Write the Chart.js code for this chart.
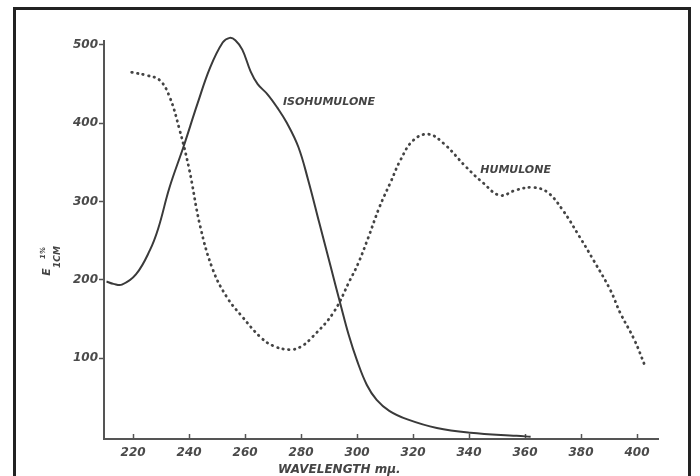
<!DOCTYPE html>
<html>
<head>
<meta charset="utf-8">
<script src="https://cdn.jsdelivr.net/npm/chart.js@4.4.1/dist/chart.umd.min.js"></script>
<style>
  html, body { margin: 0; padding: 0; background: #fff; overflow: hidden; }
  #wrap { position: relative; width: 700px; height: 476px; }
  #frame {
    position: absolute; left: 13px; top: 7px; width: 678px; height: 490px;
    border: 3px solid #222; pointer-events: none; box-sizing: border-box;
  }
</style>
</head>
<body>
<div id="wrap">
  <canvas id="specChart" width="700" height="476"></canvas>
  <div id="frame"></div>
</div>
<script>
// isohumulone, solid curve (wavelength mμ, E 1%/1cm)
const isoWavelength = [210.5, 213, 216, 221, 226, 229, 233, 238, 243, 247.5, 252, 254.5, 256.5, 259, 262, 264.5,
    268, 271.5, 275, 279, 282.5, 286.5, 290.5, 294, 297, 300, 303.5, 307, 311.5, 318, 328.5, 340.5, 357, 362];
const isoE = [198, 195, 194, 207, 238, 266, 318, 370, 425, 471, 503, 509, 506, 494, 466, 450,
    437, 420, 400, 370, 328, 273, 218, 170, 130, 97, 66, 47, 33, 22, 11, 5, 1, 0];

// humulone, dotted curve
const humWavelength = [219.5, 225, 229.5, 233, 236.5, 240, 244, 248.5, 253.5, 259, 265.5, 270, 276, 280, 284,
    291.5, 297.5, 300.5, 304, 308, 312, 315.5, 320, 325.5, 331, 339, 345, 351, 357, 363, 368, 373.5, 379.5,
    384.5, 390.5, 394, 399, 403];
const humE = [465, 461, 455, 434, 393, 342, 268, 213, 178, 153, 127, 116, 111, 115, 127,
    158, 200, 222, 254, 293, 325, 353, 378, 386, 374, 344, 324, 308, 315, 318, 312, 289, 255,
    225, 187, 158, 124, 89];

const xTickValues = [220, 240, 260, 280, 300, 320, 340, 360, 380, 400];
const yTickValues = [100, 200, 300, 400, 500];
const curveNames = ["ISOHUMULONE", "HUMULONE"];

const ink = "#3a3a3a";
const labelFont = { family: "DejaVu Sans", style: "italic", weight: "bold", size: 12 };

function toPoints(xs, ys) {
    return xs.map((x, i) => ({ x: x, y: ys[i] }));
}

// hand-lettered texts of the scan: curve names, axis titles
const scanText = {
    id: "scanText",
    afterDraw(chart) {
        const { ctx, chartArea, scales } = chart;
        const x = scales.x, y = scales.y;
        ctx.save();
        ctx.fillStyle = "#444";
        ctx.textBaseline = "middle";
        ctx.textAlign = "left";
        ctx.font = "italic bold 11px 'DejaVu Sans'";
        ctx.fillText(curveNames[0], x.getPixelForValue(273.5), y.getPixelForValue(427));
        ctx.fillText(curveNames[1], x.getPixelForValue(344), y.getPixelForValue(340));

        // x axis title
        ctx.font = "italic bold 12px 'DejaVu Sans'";
        ctx.fillText("WAVELENGTH mμ.", 278, chartArea.bottom + 31);

        // y axis title, E 1% / 1CM, rotated
        ctx.translate(50, 260);
        ctx.rotate(-Math.PI / 2);
        ctx.textAlign = "center";
        ctx.font = "italic bold 11px 'DejaVu Sans'";
        ctx.fillText("E", -12, -3);
        ctx.font = "italic bold 7px 'DejaVu Sans'";
        ctx.fillText("1%", 7, -7);
        ctx.font = "italic bold 9px 'DejaVu Sans'";
        ctx.fillText("1CM", 3, 8);
        ctx.restore();
    }
};

new Chart(document.getElementById("specChart"), {
    type: "line",
    data: {
        datasets: [
            {
                label: curveNames[0],
                data: toPoints(isoWavelength, isoE),
                borderColor: ink,
                borderWidth: 2,
                pointRadius: 0,
                tension: 0.4,
                clip: false
            },
            {
                label: curveNames[1],
                data: toPoints(humWavelength, humE),
                borderColor: "#444",
                borderWidth: 2.8,
                borderDash: [0.5, 5.2],
                borderCapStyle: "round",
                pointRadius: 0,
                tension: 0.4,
                clip: false
            }
        ]
    },
    options: {
        responsive: false,
        animation: false,
        layout: { padding: { left: 0, top: 41, right: 42, bottom: 0 } },
        scales: {
            x: {
                type: "linear",
                min: 209.6,
                max: 407.5,
                afterBuildTicks: s => { s.ticks = xTickValues.map(v => ({ value: v })); },
                afterFit: s => { s.height = 37; },
                grid: { drawOnChartArea: false, color: "#555", tickLength: -5, tickWidth: 1.5 },
                border: { color: "#555", width: 2 },
                ticks: { color: "#4a4a4a", font: labelFont, padding: 12, maxRotation: 0 }
            },
            y: {
                min: -3,
                max: 505,
                afterBuildTicks: s => { s.ticks = yTickValues.map(v => ({ value: v })); },
                afterFit: s => { s.width = 104; },
                grid: { drawOnChartArea: false, color: "#555", tickLength: 5, tickWidth: 1.5 },
                border: { color: "#555", width: 2 },
                ticks: { color: "#4a4a4a", font: labelFont, padding: 1 }
            }
        },
        plugins: {
            legend: { display: false },
            tooltip: { enabled: false }
        }
    },
    plugins: [scanText]
});
</script>
</body>
</html>
